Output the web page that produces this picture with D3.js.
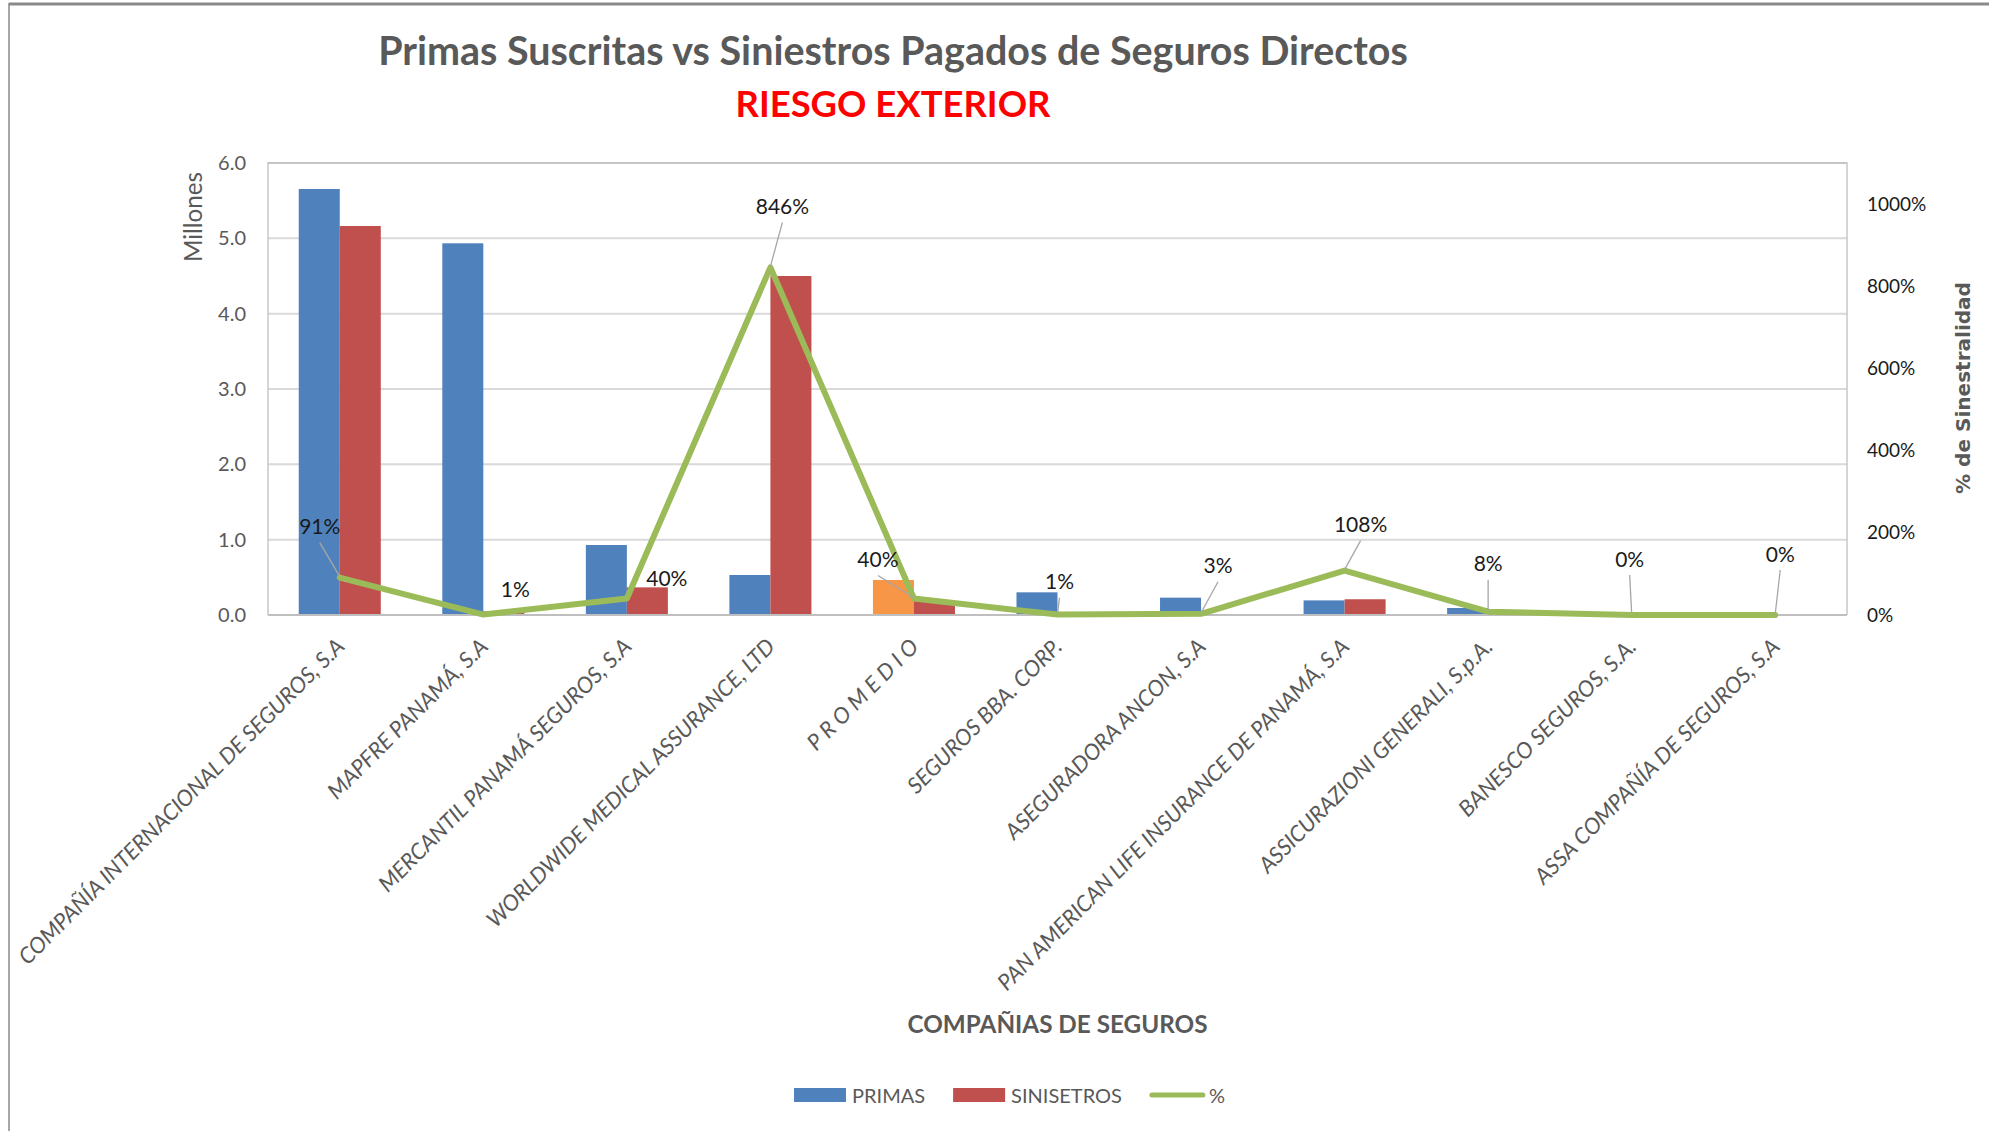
<!DOCTYPE html>
<html>
<head>
<meta charset="utf-8">
<script src="https://cdn.jsdelivr.net/npm/d3@7/dist/d3.min.js"></script>
<style>
  html, body { margin: 0; padding: 0; background: #fff; }
  svg { display: block; }
</style>
</head>
<body>
<svg id="chart" width="1989" height="1131"></svg>
<script>
// ---------------- DATA ----------------
const categories = [
  "COMPAÑÍA INTERNACIONAL DE SEGUROS, S.A",
  "MAPFRE PANAMÁ, S.A",
  "MERCANTIL PANAMÁ SEGUROS, S.A",
  "WORLDWIDE MEDICAL ASSURANCE, LTD",
  "P R O M E D I O",
  "SEGUROS BBA. CORP.",
  "ASEGURADORA ANCON, S.A",
  "PAN AMERICAN LIFE INSURANCE DE PANAMÁ, S.A",
  "ASSICURAZIONI GENERALI, S.p.A.",
  "BANESCO SEGUROS, S.A.",
  "ASSA COMPAÑÍA DE SEGUROS, S.A"
];
// millones
const primas =     [5.655, 4.934, 0.929, 0.531, 0.465, 0.301, 0.230, 0.194, 0.093, 0.030, 0.000];
const siniestros = [5.164, 0.050, 0.367, 4.500, 0.190, 0.003, 0.007, 0.209, 0.0074, 0.000, 0.000];
// % de siniestralidad
const porcentaje = [91, 1, 40, 846, 40, 1, 3, 108, 8, 0, 0];

const leftTicks = [0, 1, 2, 3, 4, 5, 6];
const rightTicks = [0, 200, 400, 600, 800, 1000];
const seriesNames = ["PRIMAS", "SINISETROS", "%"];
const averageCategory = "P R O M E D I O";

const title = "Primas Suscritas vs Siniestros Pagados de Seguros Directos";
const subtitle = "RIESGO EXTERIOR";
const xTitle = "COMPAÑIAS DE SEGUROS";
const yTitle = "Millones";
const y2Title = "% de Sinestralidad";

// ---------------- LAYOUT / STYLE ----------------
const W = 1989, H = 1131;
const plot = { left: 268, right: 1847, top: 163, bottom: 615 };
const colors = { primas: "#4F81BD", sin: "#C0504D", line: "#9BBB59", avg: "#F79646",
                 text: "#595959", dark: "#1a1a1a", grid: "#d9d9d9", border: "#bfbfbf" };
const FONT = "Lato, 'Open Sans', sans-serif";
// manual data-label nudges (px, relative to the point) as placed in the original
const labelNudge = [[-20,-52],[32,-26],[40,-21],[12,-62],[-36,-40],[2,-34],[17,-49],[16,-47],[0,-49],[-2,-57],[5,-62]];
const hasLeader = [true,false,false,true,true,true,true,true,true,true,true];

const svg = d3.select("#chart");

function fit(sel, target) {
  const node = sel.node();
  const fs = parseFloat(sel.attr("font-size"));
  const w = node.getComputedTextLength();
  if (w > 0) sel.attr("font-size", (fs * target / w).toFixed(2));
  return sel;
}

// outer frame
svg.append("line").attr("x1", 9).attr("x2", W).attr("y1", 4).attr("y2", 4)
  .attr("stroke", "#8a8a8a").attr("stroke-width", 3);
svg.append("line").attr("x1", 9).attr("x2", 9).attr("y1", 3).attr("y2", H)
  .attr("stroke", "#8a8a8a").attr("stroke-width", 1.5);

// scales
const x = d3.scaleBand().domain(categories).range([plot.left, plot.right]).padding(0);
const xInner = d3.scaleBand().domain(["p", "s"]).range([0, x.bandwidth()]).paddingInner(0).paddingOuter(0.75);
const y = d3.scaleLinear().domain([0, 6]).range([plot.bottom, plot.top]);
const y2 = d3.scaleLinear().domain([0, 1100]).range([plot.bottom, plot.top]);

// gridlines
svg.append("g").selectAll("line").data(leftTicks.slice(1)).join("line")
  .attr("x1", plot.left).attr("x2", plot.right)
  .attr("y1", d => y(d)).attr("y2", d => y(d))
  .attr("stroke", colors.grid).attr("stroke-width", 2);

// plot border (left, top, right)
svg.append("path")
  .attr("d", `M${plot.left},${plot.bottom}V${plot.top}H${plot.right}V${plot.bottom}`)
  .attr("fill", "none").attr("stroke", colors.border).attr("stroke-width", 1.3);

// left axis
const yAxis = d3.axisLeft(y).tickValues(leftTicks).tickFormat(d3.format(".1f")).tickSize(0).tickPadding(22);
const gy = svg.append("g").attr("transform", `translate(${plot.left},0)`).call(yAxis);
gy.select(".domain").remove();
gy.selectAll("text").attr("font-family", FONT).attr("font-size", 20).attr("fill", colors.text);

// right axis
const y2Axis = d3.axisRight(y2).tickValues(rightTicks).tickFormat(d => d + "%").tickSize(0).tickPadding(20);
const gy2 = svg.append("g").attr("transform", `translate(${plot.right},0)`).call(y2Axis);
gy2.select(".domain").remove();
gy2.selectAll("text").attr("font-family", FONT).attr("font-size", 19).attr("fill", colors.dark);

// bars
const barData = categories.map((c, i) => ({ c, i, p: primas[i], s: siniestros[i] }));
const gBars = svg.append("g");
gBars.selectAll("rect.p").data(barData).join("rect").attr("class", "p")
  .attr("x", d => x(d.c) + xInner("p")).attr("width", xInner.bandwidth())
  .attr("y", d => y(d.p)).attr("height", d => y(0) - y(d.p))
  .attr("fill", d => d.c === averageCategory ? colors.avg : colors.primas);
gBars.selectAll("rect.s").data(barData).join("rect").attr("class", "s")
  .attr("x", d => x(d.c) + xInner("s")).attr("width", xInner.bandwidth())
  .attr("y", d => y(d.s)).attr("height", d => y(0) - y(d.s))
  .attr("fill", colors.sin);

// baseline
svg.append("line").attr("x1", plot.left).attr("x2", plot.right)
  .attr("y1", plot.bottom).attr("y2", plot.bottom)
  .attr("stroke", colors.border).attr("stroke-width", 2);

// line
const cx = c => x(c) + x.bandwidth() / 2;
const lineGen = d3.line().x(d => cx(d.c)).y(d => y2(d.v));
const lineData = categories.map((c, i) => ({ c, i, v: porcentaje[i] }));
svg.append("path").datum(lineData).attr("d", lineGen)
  .attr("fill", "none").attr("stroke", colors.line).attr("stroke-width", 6)
  .attr("stroke-linejoin", "round").attr("stroke-linecap", "round");

// data labels + leader lines
const gLab = svg.append("g");
lineData.forEach(d => {
  const px = cx(d.c), py = y2(d.v);
  const lx = px + labelNudge[d.i][0], ly = py + labelNudge[d.i][1];
  if (hasLeader[d.i]) {
    gLab.append("line").attr("x1", lx).attr("y1", ly + 17).attr("x2", px).attr("y2", py - 1)
      .attr("stroke", "#a6a6a6").attr("stroke-width", 1.3);
  }
  gLab.append("text").attr("x", lx).attr("y", ly).attr("text-anchor", "middle")
    .attr("dominant-baseline", "central").attr("font-family", FONT).attr("font-size", 21)
    .attr("fill", colors.dark).text(d.v + "%");
});

// x labels (rotated)
const gx = svg.append("g");
const xl = gx.selectAll("text").data(categories).join("text")
  .attr("transform", c => `translate(${cx(c) + 6},${plot.bottom + 33}) rotate(-45)`)
  .attr("text-anchor", "end").attr("font-family", FONT).attr("font-style", "italic")
  .attr("font-size", 20).attr("fill", colors.text).text(c => c);
// size labels from the first (longest) label's measured length
{
  const first = xl.filter((c, i) => i === 0);
  fit(first, 450);
  xl.attr("font-size", first.attr("font-size"));
}

// titles
fit(svg.append("text").attr("x", 893).attr("y", 49).attr("text-anchor", "middle")
  .attr("dominant-baseline", "central").attr("font-family", FONT).attr("font-weight", "bold")
  .attr("font-size", 40).attr("fill", colors.text).text(title), 1030);
fit(svg.append("text").attr("x", 893).attr("y", 103).attr("text-anchor", "middle")
  .attr("dominant-baseline", "central").attr("font-family", FONT).attr("font-weight", "bold")
  .attr("font-size", 38).attr("fill", "#FF0000").text(subtitle), 315);

fit(svg.append("text").attr("x", (plot.left + plot.right) / 2).attr("y", 1023).attr("text-anchor", "middle")
  .attr("dominant-baseline", "central").attr("font-family", FONT).attr("font-weight", "bold")
  .attr("font-size", 26).attr("fill", colors.text).text(xTitle), 300);

fit(svg.append("text").attr("transform", `translate(192,217) rotate(-90)`).attr("text-anchor", "middle")
  .attr("dominant-baseline", "central").attr("font-family", FONT)
  .attr("font-size", 23).attr("fill", colors.text).text(yTitle), 90);

fit(svg.append("text").attr("transform", `translate(1963,388) rotate(-90)`).attr("text-anchor", "middle")
  .attr("dominant-baseline", "central").attr("font-family", "'DejaVu Sans', sans-serif").attr("font-weight", "bold")
  .attr("font-size", 18).attr("fill", colors.text).text(y2Title), 212);

// legend
const gLeg = svg.append("g");
const legY = 1095;
let lxPos = 794;
const legFont = 20;
seriesNames.forEach((name, i) => {
  if (i < 2) {
    gLeg.append("rect").attr("x", lxPos).attr("y", legY - 7).attr("width", 52).attr("height", 14)
      .attr("fill", i === 0 ? colors.primas : colors.sin);
    lxPos += 58;
  } else {
    gLeg.append("line").attr("x1", lxPos + 2).attr("x2", lxPos + 53).attr("y1", legY).attr("y2", legY)
      .attr("stroke", colors.line).attr("stroke-width", 5).attr("stroke-linecap", "round");
    lxPos += 59;
  }
  const t = gLeg.append("text").attr("x", lxPos).attr("y", legY).attr("dominant-baseline", "central")
    .attr("font-family", FONT).attr("font-size", legFont).attr("fill", colors.text).text(name);
  lxPos += t.node().getComputedTextLength() + 28;
});
</script>
</body>
</html>
